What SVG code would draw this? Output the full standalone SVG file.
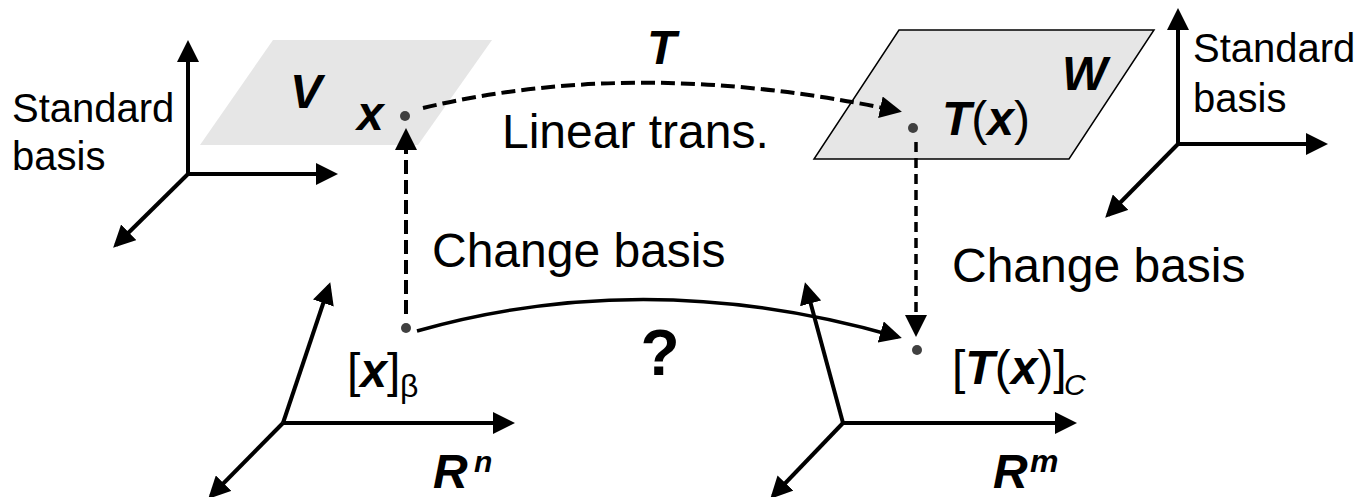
<svg xmlns="http://www.w3.org/2000/svg" width="1370" height="497" viewBox="0 0 1370 497">
<style>
text{font-family:"Liberation Sans",Arial,sans-serif;fill:#000}
.t40{font-size:40px}
.t48{font-size:48px}
.bi{font-weight:bold;font-style:italic}
.ax{stroke:#000;stroke-width:4;fill:none;marker-end:url(#ah)}
.dash{stroke:#000;stroke-width:4;fill:none;stroke-dasharray:14 6;marker-end:url(#ah)}
.dash2{stroke:#000;stroke-width:3.5;fill:none;stroke-dasharray:10 6;marker-end:url(#ah)}
.solid{stroke:#000;stroke-width:3.5;fill:none;marker-end:url(#ah)}
.dot{fill:#404040}
.plane{fill:#e6e6e6}
</style>
<defs>
<marker id="ah" markerUnits="userSpaceOnUse" markerWidth="22" markerHeight="22" viewBox="0 0 22 22" refX="18" refY="11" orient="auto">
<path d="M0,0 L22,11 L0,22 z" fill="#000"/>
</marker>
</defs>

<g id="plane-V">
<polygon class="plane" points="273,40 492,40 418,145 200,145"/>
<text class="t48 bi" x="290" y="108">V</text>
</g>
<g id="plane-W">
<polygon class="plane" points="899,30 1154,30 1069,159 814,159" stroke="#000" stroke-width="1.5"/>
<text class="t48 bi" x="1062" y="90">W</text>
</g>

<g id="axes-std-left">
<line class="ax" x1="188" y1="174" x2="188" y2="44"/>
<line class="ax" x1="188" y1="174" x2="334" y2="174"/>
<line class="ax" x1="188" y1="174" x2="116" y2="245"/>
<text class="t40" x="12" y="122">Standard</text>
<text class="t40" x="12" y="170">basis</text>
</g>
<g id="axes-std-right">
<line class="ax" x1="1178" y1="144" x2="1178" y2="12"/>
<line class="ax" x1="1178" y1="144" x2="1324" y2="144"/>
<line class="ax" x1="1178" y1="144" x2="1108" y2="215"/>
<text class="t40" x="1193" y="62">Standard</text>
<text class="t40" x="1193" y="112">basis</text>
</g>
<g id="axes-Rn">
<line class="ax" x1="283" y1="423" x2="329" y2="286"/>
<line class="ax" x1="283" y1="423" x2="511" y2="423"/>
<line class="ax" x1="283" y1="423" x2="211" y2="496"/>
<text class="t48 bi" x="433" y="488">R</text>
<text class="bi" font-size="30" x="474" y="472">n</text>
</g>
<g id="axes-Rm">
<line class="ax" x1="843" y1="423" x2="806" y2="286"/>
<line class="ax" x1="843" y1="423" x2="1073" y2="423"/>
<line class="ax" x1="843" y1="423" x2="773" y2="496"/>
<text class="t48 bi" x="993" y="488">R</text>
<text class="bi" font-size="32" x="1030" y="472">m</text>
</g>

<g id="node-x">
<circle class="dot" cx="405" cy="116" r="5"/>
<text class="t48 bi" x="357" y="130">x</text>
</g>
<g id="node-Tx">
<circle class="dot" cx="913" cy="128" r="5"/>
<text class="t48" x="942" y="135"><tspan class="bi">T</tspan>(<tspan class="bi">x</tspan>)</text>
</g>
<g id="node-xb">
<circle class="dot" cx="406" cy="328" r="5"/>
<text class="t48" x="347" y="387">[<tspan class="bi">x</tspan>]</text>
<text font-size="32" x="400" y="397">β</text>
</g>
<g id="node-Txc">
<circle class="dot" cx="917" cy="350" r="5"/>
<text class="t48" x="952" y="384">[<tspan class="bi">T</tspan>(<tspan class="bi">x</tspan>)]</text>
<text font-size="30" font-style="italic" x="1064" y="395">C</text>
</g>

<g id="connectors">
<path class="dash" d="M423,108 Q640,56 898,111"/>
<path class="dash" d="M406,314 L406,132"/>
<path class="dash2" d="M916,142 L916,333"/>
<path class="solid" d="M417,331 Q650,265 898,337"/>
</g>

<g id="labels">
<text class="t48 bi" x="647" y="64">T</text>
<text class="t48" x="502" y="148">Linear trans.</text>
<text class="t48" x="432" y="267">Change basis</text>
<text class="t48" x="952" y="282">Change basis</text>
<text font-size="64" font-weight="bold" x="660" y="375" text-anchor="middle">?</text>
</g>
</svg>
